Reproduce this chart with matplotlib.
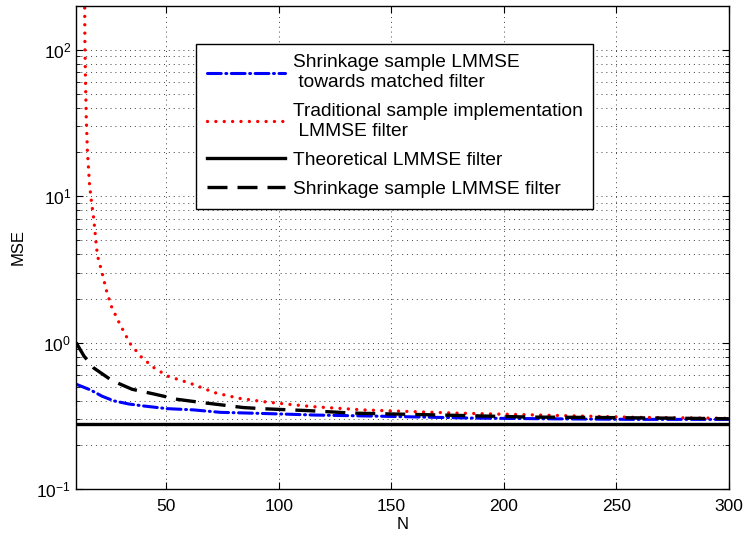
import matplotlib
matplotlib.use("Agg")
import matplotlib.pyplot as plt
from matplotlib.ticker import LogLocator, NullFormatter, FixedLocator

plt.rcParams['font.family'] = ['Liberation Sans', 'DejaVu Sans']
plt.rcParams['mathtext.fontset'] = 'custom'
plt.rcParams['mathtext.rm'] = 'Liberation Sans'
plt.rcParams['mathtext.it'] = 'Liberation Sans'
plt.rcParams['mathtext.default'] = 'regular'

# Data
N_trad = [13.8, 13.9, 14.2, 14.5, 15.0, 15.9, 16.7, 17.9, 19.1, 19.8, 21.6, 23.4, 25.6,
          28.7, 33.9, 38.9, 44.2, 50.7, 60.8, 71.6, 82.2, 93.3, 104.4, 115.5, 137.7,
          179, 223.5, 257.5, 300]
mse_trad = [220, 117, 59, 35, 20.7, 12.4, 9.5, 6.9, 4.4, 3.77, 2.98, 2.29, 1.78,
            1.41, 0.99, 0.80, 0.68, 0.59, 0.527, 0.455, 0.417, 0.395, 0.379, 0.365, 0.347,
            0.33, 0.318, 0.309, 0.304]

N_shrink = [10, 13.5, 17.9, 26, 34.9, 44.5, 54.9, 64.5, 74.9, 84.4, 94, 113.3, 133,
            152.5, 173, 211.6, 242.7, 291.5, 300]
mse_shrink = [1.0, 0.81, 0.67, 0.55, 0.48, 0.446, 0.41, 0.392, 0.375, 0.36, 0.353, 0.343,
              0.33, 0.325, 0.32, 0.31, 0.308, 0.303, 0.302]

N_mf = [10, 16.4, 21.6, 26.8, 33.4, 40.1, 50.5, 62.3, 74.1, 87.4, 102.2, 116.3, 146.6,
        186.5, 217.5, 257.5, 300]
mse_mf = [0.52, 0.475, 0.43, 0.40, 0.381, 0.369, 0.354, 0.347, 0.334, 0.33, 0.325, 0.32,
          0.314, 0.305, 0.302, 0.299, 0.299]

N_theory = [10, 300]
mse_theory = [0.28, 0.28]

labels = ["Shrinkage sample LMMSE\n towards matched filter",
          "Traditional sample implementation\n LMMSE filter",
          "Theoretical LMMSE filter",
          "Shrinkage sample LMMSE filter"]
x_ticks = [50, 100, 150, 200, 250, 300]

fig = plt.figure(figsize=(7.46, 5.40), dpi=100)
ax = fig.add_axes([0.102, 0.0944, 0.875, 0.895])

ax.semilogy(N_mf, mse_mf, color=(0, 0, 1), lw=2.2, linestyle=(0, (4.5, 1.5, 0.3, 1.5)),
            dash_capstyle='round', label=labels[0])
ax.semilogy(N_trad, mse_trad, color=(1, 0, 0), lw=2.4, linestyle=(0, (0.01, 2.5)),
            dash_capstyle='round', label=labels[1])
ax.semilogy(N_theory, mse_theory, color='black', lw=2.4, label=labels[2])
ax.semilogy(N_shrink, mse_shrink, color='black', lw=2.4, linestyle=(0, (6, 3)),
            label=labels[3])

ax.set_xlim(10, 300)
ax.set_ylim(0.1, 200)
ax.xaxis.set_major_locator(FixedLocator(x_ticks))
ax.yaxis.set_major_locator(LogLocator(base=10, numticks=10))
ax.yaxis.set_minor_locator(LogLocator(base=10, subs=range(2, 10), numticks=20))
ax.yaxis.set_minor_formatter(NullFormatter())

gkw = dict(color='#404040', linestyle=(0, (1, 4)), linewidth=0.7)
ax.grid(True, which='major', axis='both', **gkw)
ax.grid(True, which='minor', axis='y', **gkw)

ax.tick_params(which='both', direction='in', top=True, right=True, labelsize=12.5)
ax.tick_params(which='major', length=5)
ax.tick_params(which='minor', length=3)
ax.tick_params(axis='x', pad=7)
for s in ax.spines.values():
    s.set_linewidth(1.0)

ax.set_xlabel("N", fontsize=12, labelpad=2)
ax.set_ylabel("MSE", fontsize=12, labelpad=8)

leg = ax.legend(loc='upper left', bbox_to_anchor=(0.184, 0.921), fontsize=13.8,
                frameon=True, fancybox=False, edgecolor='black', framealpha=1,
                handlelength=4.1, handletextpad=0.4, labelspacing=0.62,
                borderpad=0.55, borderaxespad=0)
leg.get_frame().set_linewidth(1.0)

fig.savefig("out.png", dpi=100)
